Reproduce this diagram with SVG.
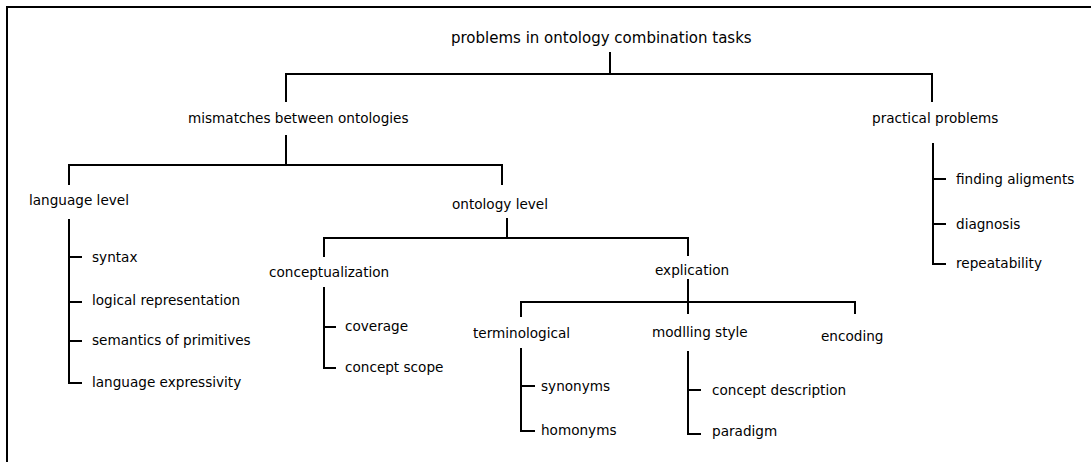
<svg xmlns="http://www.w3.org/2000/svg" width="1091" height="462" viewBox="0 0 1091 462">
<style>
text{font-family:"DejaVu Sans","Liberation Sans",sans-serif;font-size:13.6px;fill:#000}
.root{font-size:15px}
.c{fill:none;stroke:#000;stroke-width:2}
</style>
<rect width="1091" height="462" fill="#fff"/>
<path class="c" d="M7,462 V7 H1091"/>
<g id="connectors">
<path class="c" d="M610,52 V74 M286,102 V74 H932 V102"/>
<path class="c" d="M286,135 V165 M69,185 V165 H502 V185"/>
<path class="c" d="M69,219 V383 H82 M69,257 H82 M69,302 H82 M69,341 H82"/>
<path class="c" d="M507,218 V238 M324,257 V238 H688 V256"/>
<path class="c" d="M324,287 V368 H336 M324,327 H336"/>
<path class="c" d="M688,279 V314 M521,317 V302 H855 V314"/>
<path class="c" d="M521,348 V431 H535 M521,386 H535"/>
<path class="c" d="M688,351 V434 H701 M688,390 H701"/>
<path class="c" d="M933,143 V264 H946 M933,179 H946 M933,224 H946"/>
</g>
<g id="root"><text class="root" x="451" y="43">problems in ontology combination tasks</text></g>
<g id="mismatches"><text x="188" y="123">mismatches between ontologies</text></g>
<g id="practical"><text x="872" y="123">practical problems</text></g>
<g id="finding"><text x="956" y="184">finding aligments</text></g>
<g id="diagnosis"><text x="956" y="229">diagnosis</text></g>
<g id="repeatability"><text x="956" y="268">repeatability</text></g>
<g id="language-level"><text x="29" y="205">language level</text></g>
<g id="syntax"><text x="92" y="262">syntax</text></g>
<g id="logical"><text x="92" y="305">logical representation</text></g>
<g id="semantics"><text x="92" y="345">semantics of primitives</text></g>
<g id="expressivity"><text x="92" y="387">language expressivity</text></g>
<g id="ontology-level"><text x="452" y="209">ontology level</text></g>
<g id="conceptualization"><text x="269" y="277">conceptualization</text></g>
<g id="coverage"><text x="345" y="331">coverage</text></g>
<g id="concept-scope"><text x="345" y="372">concept scope</text></g>
<g id="explication"><text x="655" y="275">explication</text></g>
<g id="terminological"><text x="473" y="338">terminological</text></g>
<g id="synonyms"><text x="541" y="391">synonyms</text></g>
<g id="homonyms"><text x="541" y="435">homonyms</text></g>
<g id="modlling"><text x="652" y="337">modlling style</text></g>
<g id="concept-description"><text x="712" y="395">concept description</text></g>
<g id="paradigm"><text x="712" y="436">paradigm</text></g>
<g id="encoding"><text x="821" y="341">encoding</text></g>
</svg>
